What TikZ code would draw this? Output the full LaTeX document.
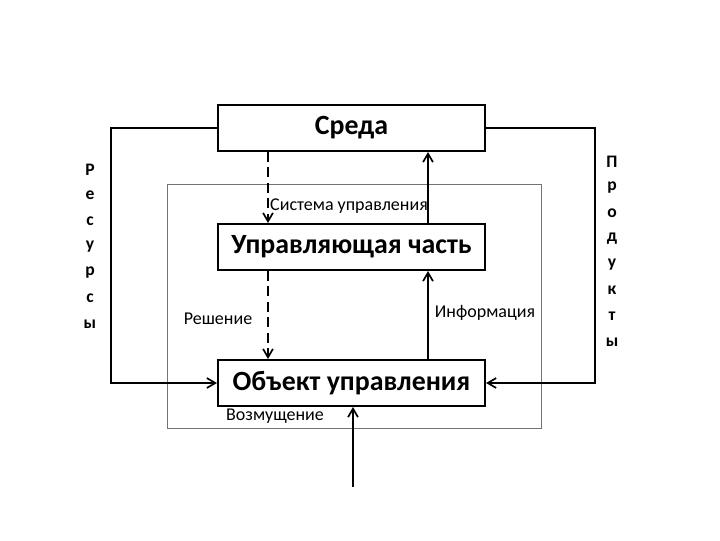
\documentclass[tikz,border=0pt]{standalone}
\usepackage{fontspec}
\setmainfont{Carlito}
\usetikzlibrary{arrows.meta}

\tikzset{
  blok/.style={draw, line width=1.4pt, minimum width=6.675cm, minimum height=1.15cm, inner sep=0pt, font=\bfseries\fontsize{19.8}{23}\selectfont},
  svyaz/.style={line width=1.4pt, -{Straight Barb[length=6pt,width=7pt,line width=1.2pt]}},
  podpis/.style={font=\fontsize{12.8}{15}\selectfont, inner sep=1pt},
  bukva/.style={font=\bfseries\fontsize{12.5}{15}\selectfont, inner sep=0pt}
}

\begin{document}
\begin{tikzpicture}[x=0.025cm, y=-0.025cm]
	%%%%% START %%%%%
	\useasboundingbox (0,0) rectangle (720,540);

	\draw[line width=0.6pt, color=black!55] (167, 184) rectangle (541, 428);

	\node[blok] (sreda) at (351.5, 128) {Среда};
	\node[blok] (upr) at (351.5, 247) {Управляющая часть};
	\node[blok] (obj) at (351.5, 383) {Объект управления};

	\coordinate (dl) at (268, 0);
	\coordinate (sl) at (428, 0);
	\coordinate (lt) at (111, 128);
	\coordinate (rt) at (595, 128);
	\coordinate (vozm) at (353, 487);

	\draw[svyaz, dashed, dash pattern=on 7pt off 4pt] (sreda.south -| dl) -- (upr.north -| dl);
	\draw[svyaz] (upr.north -| sl) -- (sreda.south -| sl);
	\draw[svyaz, dashed, dash pattern=on 7pt off 4pt] (upr.south -| dl) -- (obj.north -| dl);
	\draw[svyaz] (obj.north -| sl) -- (upr.south -| sl);

	\draw[svyaz] (sreda.west) -- (lt) |- (obj.west);
	\draw[svyaz] (sreda.east) -- (rt) |- (obj.east);
	\draw[svyaz] (vozm) -- (vozm |- obj.south);

	\node[podpis] (sysupr) at (349, 206) {Система управления};
	\node[podpis] (resh) at (218, 319) {Решение};
	\node[podpis] (inform) at (485, 313) {Информация};
	\node[podpis] (vozmsh) at (275, 416) {Возмущение};

	\foreach \b [count=\i] in {Р,е,с,у,р,с,ы}
		\node[bukva] (res\i) at (90, 170 + 25.7*\i - 25.7) {\b};
	\foreach \b [count=\i] in {П,р,о,д,у,к,т,ы}
		\node[bukva] (prod\i) at (612, 162 + 25.7*\i - 25.7) {\b};
	%%%%% END %%%%%
\end{tikzpicture}
\end{document}
